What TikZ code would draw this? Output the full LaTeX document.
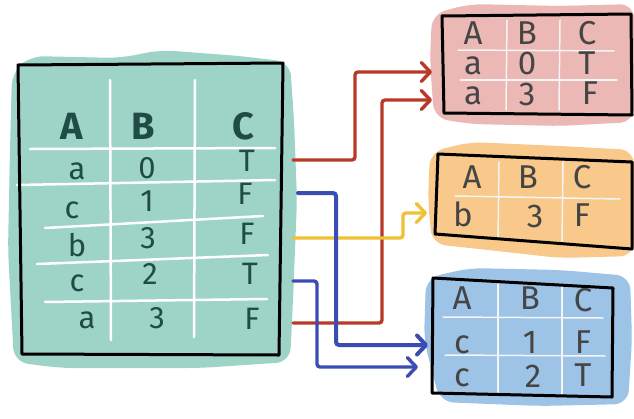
\documentclass[tikz,border=0pt]{standalone}
\usepackage{fontspec}
\setmainfont{Fira Sans}
\usetikzlibrary{arrows.meta}
\definecolor{tealbg}{HTML}{9ED3C8}
\definecolor{tealtxt}{HTML}{1F4D45}
\definecolor{pinkbg}{HTML}{EBB8B5}
\definecolor{orangebg}{HTML}{F8C98B}
\definecolor{bluebg}{HTML}{9DC3E7}
\definecolor{greytxt}{HTML}{454545}
\definecolor{redarrow}{HTML}{B83A26}
\definecolor{yelarrow}{HTML}{F0C035}
\definecolor{bluearrow}{HTML}{3B4DB2}
\begin{document}
\begin{tikzpicture}[x=1pt,y=-1pt,
  blob/.style={rounded corners=14pt},
  border/.style={draw=black, line width=3pt, line join=round},
  grid/.style={draw=white, line width=2.5pt, line cap=round},
  thingrid/.style={draw=white!92!gray, line width=1.5pt, line cap=round},
  bigtxt/.style={anchor=base, inner sep=0pt, text=tealtxt, font=\fontsize{31}{31}\selectfont},
  bighead/.style={anchor=base, inner sep=0pt, text=tealtxt, font=\fontsize{38}{38}\selectfont\bfseries},
  rtxt/.style={anchor=base, inner sep=0pt, text=greytxt, font=\fontsize{33}{33}\selectfont},
  conn/.style={line width=3.4pt, rounded corners=3pt, line cap=round,
    -{Straight Barb[length=9pt,width=19pt,round]}},
  redconn/.style={conn, draw=redarrow},
  yelconn/.style={conn, draw=yelarrow},
  blueconn/.style={conn, draw=bluearrow}]
\useasboundingbox (0,0) rectangle (634,418);
\fill[white] (0,0) rectangle (634,418);

% ---------- backgrounds ----------
\fill[tealbg, blob] (12,72) -- (30,56) -- (120,58) -- (160,50) -- (240,56) -- (290,62)
  -- (294,120) -- (297,200) -- (293,300) -- (290,362) -- (200,368) -- (60,368)
  -- (14,362) -- (8,250) -- (10,150) -- cycle;
\fill[pinkbg, blob] (432,14) -- (470,4) -- (560,6) -- (634,4) -- (634,122)
  -- (560,126) -- (470,124) -- (434,118) -- (430,60) -- cycle;
\fill[orangebg, blob] (430,152) -- (470,142) -- (560,146) -- (634,150) -- (634,256)
  -- (560,258) -- (470,248) -- (432,244) -- (428,200) -- cycle;
\fill[bluebg, blob] (426,278) -- (470,268) -- (560,270) -- (630,276) -- (632,340)
  -- (628,404) -- (540,406) -- (440,402) -- (424,340) -- cycle;

% ---------- big table ----------
\draw[grid] (110,80) -- (111,340);
\draw[grid] (195,80) -- (194,337);
\draw[grid] (30,149) -- (275,148);
\draw[grid] (17,185) -- (275,180);
\draw[grid] (45,228) -- (263,216);
\draw[grid] (37,264) -- (268,255);
\draw[grid] (45,302) -- (267,299);
\draw[border] (18,65) -- (283,63) -- (279,355) -- (22,354) -- cycle;

\node[bighead] (hA) at (72,139) {A};
\node[bighead] (hB) at (143,139) {B};
\node[bighead] (hC) at (243,139) {C};
\foreach \t/\x/\y [count=\i] in {a/77/179, 0/147/178, T/247/171,
    c/72/218, 1/147/211, F/245/204,
    b/77/256, 3/148/248, F/247/244,
    c/77/291, 2/150/284, T/250/284,
    a/87/328, 3/157/328, F/252/329}
  \node[bigtxt] (bg\i) at (\x,\y) {\t};

% ---------- pink table ----------
\draw[thingrid] (507,20) -- (506,110);
\draw[thingrid] (560,20) -- (559,110);
\draw[thingrid] (458,50) -- (614,51);
\draw[thingrid] (460,80) -- (617,80);
\draw[border] (442,16) -- (631,14) -- (632,115) -- (444,113) -- cycle;
\foreach \t/\x/\y [count=\i] in {A/473/44, B/527/44, C/587/44,
    a/473/74, 0/527/74, T/587/74,
    a/473/104, 3/527/105, F/590/104}
  \node[rtxt] (pk\i) at (\x,\y) {\t};

% ---------- orange table ----------
\draw[thingrid] (499,162) -- (498,238);
\draw[thingrid] (563,162) -- (562,242);
\draw[thingrid] (455,196) -- (620,199);
\draw[border] (438,154) -- (632,162) -- (632,249) -- (435,234) -- cycle;
\foreach \t/\x/\y [count=\i] in {A/472/188, B/528/188, C/582/188,
    b/463/226, 3/535/227, F/582/226}
  \node[rtxt] (or\i) at (\x,\y) {\t};

% ---------- blue table ----------
\draw[thingrid] (498,284) -- (498,394);
\draw[thingrid] (562,286) -- (562,394);
\draw[thingrid] (443,317) -- (603,318);
\draw[thingrid] (445,355) -- (605,356);
\draw[border] (433,278) -- (613,288) -- (612,397) -- (432,393) -- cycle;
\foreach \t/\x/\y [count=\i] in {A/462/309, B/530/309, C/583/311,
    c/462/353, 1/530/353, F/583/353,
    c/462/386, 2/533/387, T/583/386}
  \node[rtxt] (bl\i) at (\x,\y) {\t};

% ---------- connectors ----------
\coordinate (s1) at (293,160); \coordinate (t1) at (432,72);
\coordinate (s2) at (293,323); \coordinate (t2) at (432,100);
\coordinate (s3) at (293,238); \coordinate (t3) at (427,213);
\coordinate (s4) at (298,193); \coordinate (t4) at (428,345);
\coordinate (s5) at (293,281); \coordinate (t5) at (418,367);

\draw[redconn] (s1) -- ++(62,0) |- (t1);
\draw[redconn] (s2) -- ++(89,0) |- (t2);
\draw[yelconn] (s3) -- ++(110,0) |- (t3);
\draw[blueconn, line width=4pt] (s4) -- ++(38,0) |- (t4);
\draw[blueconn] (s5) -- ++(24,0) |- (t5);
\end{tikzpicture}
\end{document}
